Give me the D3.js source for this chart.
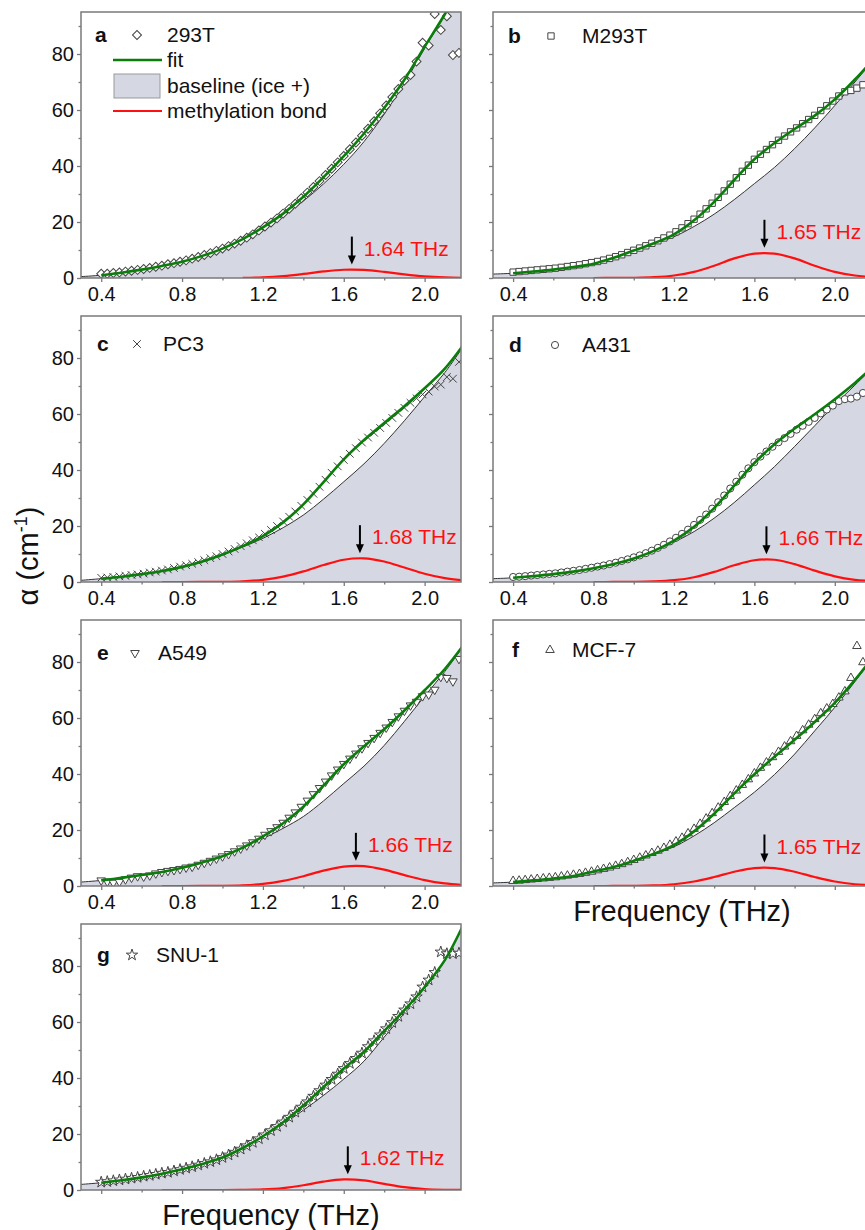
<!DOCTYPE html>
<html>
<head>
<meta charset="utf-8">
<script src="https://cdn.jsdelivr.net/npm/d3@7"></script>
<style>
  body { margin: 0; background: #fff; }
  svg { display: block; font-family: "Liberation Sans", Arial, sans-serif; }
</style>
</head>
<body>
<svg id="chart"></svg>
<script>
// grid of the model curves (THz)
const curveFreq = [0.3, 0.4, 0.5, 0.6, 0.7, 0.8, 0.9, 1.0, 1.1, 1.2, 1.3, 1.4, 1.5, 1.6, 1.7, 1.8, 1.9, 2.0, 2.1, 2.2];
// frequencies of the measured points (THz)
const pointFreq = [0.40, 0.43, 0.46, 0.49, 0.52, 0.55, 0.58, 0.61, 0.64, 0.67,
  0.70, 0.73, 0.76, 0.79, 0.82, 0.85, 0.88, 0.91, 0.94, 0.97,
  1.00, 1.03, 1.06, 1.09, 1.12, 1.15, 1.18, 1.21, 1.24, 1.27,
  1.30, 1.33, 1.36, 1.39, 1.42, 1.45, 1.48, 1.51, 1.54, 1.57,
  1.60, 1.63, 1.66, 1.69, 1.72, 1.75, 1.78, 1.81, 1.84, 1.87,
  1.90, 1.93, 1.96, 1.99, 2.02, 2.05, 2.08, 2.11, 2.14, 2.17];

const letters = ["a", "b", "c", "d", "e", "f", "g"];
const samples = ["293T", "M293T", "PC3", "A431", "A549", "MCF-7", "SNU-1"];
const peakFreq = [1.64, 1.65, 1.68, 1.66, 1.66, 1.65, 1.62];
const peakHeight = [3.0, 9.0, 8.5, 8.1, 7.2, 6.6, 3.8];

const xTicks = [0.4, 0.8, 1.2, 1.6, 2.0];
const xMinor = [0.6, 1.0, 1.4, 1.8];
const yTicks = [0, 20, 40, 60, 80];
const yMinor = [10, 30, 50, 70, 90];

// a  293T
const baselineA = [0.5, 1.0, 1.9, 3.0, 4.3, 5.8, 7.9, 10.5, 13.8, 17.8, 22.3, 27.5, 33.6, 40.6, 48.7, 58.5, 69.5, 82.0, 94.0, 107];
const gaussA = [null, null, null, null, null, null, null, null, 0.08, 0.27, 0.71, 1.46, 2.35, 2.94, 2.87, 2.18, 1.29, 0.59, 0.21, 0.06];
const fitA = [null, 1.0, 1.9, 3.0, 4.3, 5.8, 7.9, 10.5, 13.9, 18.1, 23.0, 29.0, 36.0, 43.5, 51.6, 60.7, 70.8, 82.6, 94.2, 107];
const pointsA = [1.5, 1.5, 1.8, 2.0, 2.3, 2.6, 2.9, 3.2, 3.6, 4.0,
  4.4, 4.9, 5.3, 5.8, 6.3, 6.9, 7.5, 8.2, 8.9, 9.7,
  10.5, 11.4, 12.3, 13.3, 14.4, 15.6, 17.0, 18.4, 19.8, 21.3,
  23.0, 24.7, 26.5, 28.5, 30.5, 32.5, 34.6, 36.8, 39.0, 41.3,
  43.6, 46.0, 48.4, 50.8, 53.3, 56.0, 58.8, 61.6, 64.6, 67.5,
  70.5, 72.5, 77.3, 84.0, 83.0, 94.3, 88.6, 93.5, 79.6, 80.4];

// b  M293T
const baselineB = [1.4, 1.7, 2.3, 3.0, 3.9, 5.1, 7.2, 9.7, 12.1, 14.7, 18.4, 22.8, 28.0, 33.7, 39.5, 46.2, 53.6, 61.6, 70.0, 78.5];
const gaussB = [null, null, null, null, null, 0.0, 0.02, 0.08, 0.3, 0.9, 2.2, 4.4, 7.0, 8.7, 8.7, 7.0, 4.4, 2.2, 0.9, 0.3];
const fitB = [null, 1.7, 2.3, 3.0, 3.9, 5.1, 7.2, 9.8, 12.4, 15.6, 20.6, 27.2, 35.0, 42.4, 48.2, 53.2, 58.0, 63.8, 70.9, 78.8];
const pointsB = [2.1, 2.3, 2.5, 2.7, 2.9, 3.1, 3.3, 3.5, 3.8, 4.1,
  4.4, 4.7, 5.1, 5.5, 5.9, 6.4, 7.0, 7.6, 8.3, 9.1,
  9.9, 10.7, 11.5, 12.4, 13.3, 14.3, 15.3, 16.5, 17.9, 19.4,
  21.0, 22.8, 24.7, 26.7, 28.8, 31.1, 33.5, 35.8, 38.1, 40.3,
  42.4, 44.2, 45.9, 47.6, 49.2, 50.7, 52.2, 53.6, 55.1, 56.6,
  58.1, 59.8, 61.5, 63.2, 65.0, 66.5, 67.0, 67.8, 69.0, 70.5];

// c  PC3
const baselineC = [0.6, 1.2, 1.9, 2.8, 3.9, 5.4, 7.3, 9.7, 12.5, 15.6, 19.4, 23.9, 29.6, 35.8, 42.2, 49.5, 57.6, 66.2, 74.8, 85.0];
const gaussC = [null, null, null, null, 0.0, 0.0, 0.02, 0.07, 0.26, 0.79, 1.91, 3.78, 6.08, 7.96, 8.46, 7.33, 5.16, 2.95, 1.37, 0.52];
const fitC = [null, 1.2, 1.9, 2.8, 3.9, 5.4, 7.3, 9.8, 12.8, 16.4, 21.3, 27.7, 35.7, 43.8, 50.7, 56.8, 62.8, 69.2, 76.2, 85.5];
const pointsC = [1.5, 1.6, 1.8, 2.0, 2.2, 2.5, 2.7, 3.0, 3.4, 3.7,
  4.1, 4.5, 5.0, 5.5, 6.0, 6.5, 7.1, 7.8, 8.5, 9.2,
  10.0, 10.9, 11.8, 12.8, 13.8, 14.9, 16.0, 17.2, 18.6, 20.0,
  21.6, 23.3, 25.2, 27.2, 29.3, 31.5, 34.0, 36.5, 39.0, 41.3,
  43.6, 45.8, 47.8, 49.8, 51.6, 53.3, 55.0, 56.8, 58.6, 60.4,
  62.2, 64.0, 65.6, 67.0, 68.0, 69.8, 70.5, 73.2, 72.6, 78.6];

// d  A431
const baselineD = [1.2, 1.5, 2.1, 2.8, 3.7, 4.9, 6.4, 8.3, 10.9, 14.2, 18.0, 22.8, 28.4, 34.7, 41.2, 48.4, 55.8, 63.3, 70.3, 77.3];
const gaussD = [null, null, null, null, null, 0.0, 0.01, 0.04, 0.19, 0.64, 1.71, 3.6, 5.96, 7.76, 7.95, 6.4, 4.06, 2.03, 0.79, 0.24];
const fitD = [null, 1.5, 2.1, 2.8, 3.7, 4.9, 6.4, 8.4, 11.1, 14.8, 19.7, 26.4, 34.4, 42.5, 49.2, 54.8, 59.9, 65.3, 71.1, 77.5];
const pointsD = [1.8, 1.9, 2.1, 2.3, 2.5, 2.7, 2.9, 3.1, 3.4, 3.7,
  4.0, 4.3, 4.7, 5.1, 5.5, 5.9, 6.4, 6.9, 7.5, 8.1,
  8.8, 9.5, 10.3, 11.2, 12.2, 13.3, 14.5, 15.8, 17.2, 18.7,
  20.4, 22.2, 24.1, 26.2, 28.5, 30.9, 33.4, 35.8, 38.3, 40.6,
  42.8, 44.8, 46.6, 48.3, 49.9, 51.4, 52.9, 54.4, 55.8, 57.2,
  58.6, 60.2, 61.6, 63.0, 64.6, 65.3, 65.5, 66.2, 67.5, 66.2];

// e  A549
const baselineE = [1.4, 2.0, 2.9, 3.9, 5.0, 6.5, 8.4, 10.5, 13.4, 16.9, 20.6, 24.8, 30.4, 36.6, 42.8, 50.2, 58.8, 67.8, 76.6, 86.5];
const gaussE = [null, null, null, null, 0.0, 0.0, 0.02, 0.07, 0.25, 0.75, 1.81, 3.5, 5.48, 6.93, 7.08, 5.84, 3.89, 2.1, 0.91, 0.32];
const fitE = [null, 2.0, 2.9, 3.9, 5.0, 6.5, 8.4, 10.6, 13.7, 17.7, 22.4, 28.3, 35.9, 43.5, 49.9, 56.0, 62.7, 69.9, 77.5, 86.8];
const pointsE = [2.0, 1.6, 1.2, 1.5, 2.4, 3.0, 3.5, 3.4, 3.8, 4.5,
  5.0, 5.4, 5.7, 6.1, 6.6, 6.9, 7.6, 8.3, 9.0, 9.8,
  10.6, 11.4, 12.4, 13.4, 14.5, 15.6, 16.9, 18.3, 19.6, 21.0,
  22.6, 24.4, 26.3, 28.3, 30.5, 32.8, 35.0, 37.3, 39.5, 41.6,
  43.6, 45.5, 47.3, 49.2, 51.1, 52.9, 54.7, 56.6, 58.6, 60.6,
  62.6, 64.5, 65.8, 67.8, 68.4, 70.1, 74.7, 74.3, 73.1, 81.1];

// f  MCF-7
const baselineF = [1.1, 1.4, 2.0, 2.7, 3.6, 5.2, 6.8, 8.9, 11.3, 14.0, 17.9, 22.6, 28.0, 33.5, 39.8, 47.1, 55.4, 63.8, 73.0, 82.5];
const gaussF = [null, null, null, null, null, 0.0, 0.01, 0.05, 0.2, 0.63, 1.6, 3.2, 5.08, 6.41, 6.41, 5.08, 3.2, 1.6, 0.63, 0.2];
const fitF = [null, 1.4, 2.0, 2.7, 3.6, 5.2, 6.8, 9.0, 11.5, 14.6, 19.5, 25.8, 33.1, 39.9, 46.2, 52.2, 58.6, 65.4, 73.6, 82.7];
const pointsF = [1.8, 1.9, 2.1, 2.3, 2.5, 2.7, 2.9, 3.1, 3.4, 3.7,
  4.0, 4.3, 4.7, 5.1, 5.6, 6.1, 6.6, 7.2, 7.8, 8.5,
  9.3, 10.1, 10.9, 11.8, 12.6, 13.6, 14.7, 15.9, 17.2, 18.8,
  20.4, 22.2, 24.1, 26.0, 28.0, 30.0, 32.1, 34.1, 36.1, 38.1,
  40.2, 42.2, 44.1, 46.0, 47.9, 49.8, 51.7, 53.6, 55.6, 57.6,
  59.6, 61.7, 63.4, 65.0, 67.3, 69.5, 74.3, 85.7, 79.9, 81.0];

// g  SNU-1
const baselineG = [2.0, 2.6, 3.5, 4.5, 5.8, 7.4, 9.3, 11.6, 15.0, 19.0, 23.5, 28.5, 33.8, 39.6, 46.0, 54.6, 63.2, 72.2, 82.0, 96.0];
const gaussG = [null, null, null, null, 0.0, 0.0, 0.0, 0.0, 0.04, 0.2, 0.69, 1.7, 3.0, 3.77, 3.42, 2.2, 1.03, 0.34, 0.08, 0.02];
const fitG = [null, 2.6, 3.5, 4.5, 5.8, 7.4, 9.3, 11.6, 15.0, 19.2, 24.2, 30.2, 36.8, 43.4, 49.4, 56.8, 64.2, 72.5, 82.1, 96.0];
const pointsG = [2.8, 3.0, 3.3, 3.6, 3.9, 4.2, 4.5, 4.9, 5.2, 5.6,
  6.0, 6.3, 6.8, 7.3, 7.8, 8.3, 8.9, 9.5, 10.1, 10.8,
  11.6, 12.5, 13.5, 14.6, 15.8, 17.0, 18.3, 19.7, 21.2, 22.7,
  24.3, 26.0, 27.8, 29.6, 31.5, 33.5, 35.5, 37.5, 39.5, 41.4,
  43.4, 45.2, 47.0, 48.9, 51.2, 53.3, 55.4, 57.6, 59.8, 62.0,
  64.3, 66.5, 69.0, 72.5, 75.0, 77.7, 85.0, 84.4, 84.4, 84.6];

const baselines = [baselineA, baselineB, baselineC, baselineD, baselineE, baselineF, baselineG];
const gausses = [gaussA, gaussB, gaussC, gaussD, gaussE, gaussF, gaussG];
const fits = [fitA, fitB, fitC, fitD, fitE, fitF, fitG];
const points = [pointsA, pointsB, pointsC, pointsD, pointsE, pointsF, pointsG];

// layout
const W = 865, H = 1230;
const rowTop = [12, 316, 620, 924];
const plotH = 266;
const colLeft = [81, 493];
const colW = [380, 378];
const letterDx = [14, 15, 16, 16, 16, 19, 16];
const markerDx = [56, 58, 56, 62, 54, 57, 51];
const nameDx = [86, 89, 82, 89, 77, 79, 75];
const labelDy = [30, 31, 35, 36, 40, 37, 38];

const fillColor = "#d5d8e2";
const green = "#0b7d0b";
const red = "#ff1010";
const frameColor = "#7a7a7a";
const markerStroke = "#444";

const symbols = [
  { type: d3.symbolSquare, size: 40, rotate: 45 },
  { type: d3.symbolSquare, size: 40, rotate: 0 },
  { type: d3.symbolX, size: 40, rotate: 0 },
  { type: d3.symbolCircle, size: 40, rotate: 0 },
  { type: d3.symbolTriangle, size: 32, rotate: 180 },
  { type: d3.symbolTriangle, size: 32, rotate: 0 },
  { type: d3.symbolStar, size: 40, rotate: 0 },
];

const svg = d3.select("#chart").attr("width", W).attr("height", H);
svg.append("rect").attr("width", W).attr("height", H).attr("fill", "#fff");
const defs = svg.append("defs");

const curve = d3.curveCatmullRom.alpha(0.5);

function drawMarker(g, i, x, y) {
  const s = symbols[i];
  g.append("path")
    .attr("d", d3.symbol(s.type, s.size)())
    .attr("transform", `translate(${x},${y}) rotate(${s.rotate})`)
    .attr("fill", "#fff")
    .attr("stroke", markerStroke)
    .attr("stroke-width", 1);
}

letters.forEach((letter, i) => {
  const col = i % 2, row = Math.floor(i / 2);
  const left = colLeft[col], top = rowTop[row], w = colW[col];
  const showX = i <= 4;
  const showY = col === 0;

  const x = d3.scaleLinear().domain([0.3, 2.18]).range([0, w]);
  const y = d3.scaleLinear().domain([0, 95]).range([plotH, 0]);

  const g = svg.append("g").attr("transform", `translate(${left},${top})`);

  defs.append("clipPath").attr("id", "clip" + i)
    .append("rect").attr("width", w).attr("height", plotH);
  const plot = g.append("g").attr("clip-path", `url(#clip${i})`);

  const curveRows = curveFreq.map((f, k) => ({
    f, base: baselines[i][k], gauss: gausses[i][k], fit: fits[i][k],
  }));

  plot.append("path")
    .datum(curveRows)
    .attr("fill", fillColor)
    .attr("d", d3.area().curve(curve)
      .x((d) => x(d.f)).y0(y(0)).y1((d) => y(d.base)));

  plot.append("path")
    .datum(curveRows)
    .attr("fill", "none").attr("stroke", "#333").attr("stroke-width", 1)
    .attr("d", d3.line().curve(curve).x((d) => x(d.f)).y((d) => y(d.base)));

  plot.append("path")
    .datum(curveRows.filter((d) => d.gauss !== null))
    .attr("fill", "none").attr("stroke", red).attr("stroke-width", 2.2)
    .attr("d", d3.line().curve(curve).x((d) => x(d.f)).y((d) => y(d.gauss)));

  const pts = plot.append("g");
  pointFreq.forEach((f, k) => drawMarker(pts, i, x(f), y(points[i][k])));

  plot.append("path")
    .datum(curveRows.filter((d) => d.fit !== null))
    .attr("fill", "none").attr("stroke", green).attr("stroke-width", 2.6)
    .attr("d", d3.line().curve(curve).x((d) => x(d.f)).y((d) => y(d.fit)));

  // peak annotation
  const ax = x(peakFreq[i]);
  const py = y(peakHeight[i]);
  g.append("line")
    .attr("x1", ax).attr("x2", ax)
    .attr("y1", py - 33).attr("y2", py - 12)
    .attr("stroke", "#000").attr("stroke-width", 2);
  g.append("path")
    .attr("d", `M${ax - 4},${py - 14} L${ax + 4},${py - 14} L${ax},${py - 5} Z`)
    .attr("fill", "#000");
  g.append("text")
    .attr("x", ax + 12).attr("y", py - 14)
    .attr("fill", red).attr("font-size", 21)
    .text(`${peakFreq[i].toFixed(2)} THz`);

  // axes
  const xAxis = g.append("g").attr("transform", `translate(0,${plotH})`)
    .call(d3.axisBottom(x).tickValues(xTicks).tickSize(4).tickPadding(5).tickSizeOuter(0)
      .tickFormat(showX ? d3.format(".1f") : ""));
  const xAxisMinor = g.append("g").attr("transform", `translate(0,${plotH})`)
    .call(d3.axisBottom(x).tickValues(xMinor).tickSize(2.5).tickSizeOuter(0).tickFormat(""));
  const yAxis = g.append("g")
    .call(d3.axisLeft(y).tickValues(yTicks).tickSize(4).tickPadding(3).tickSizeOuter(0)
      .tickFormat(showY ? d3.format("d") : ""));
  const yAxisMinor = g.append("g")
    .call(d3.axisLeft(y).tickValues(yMinor).tickSize(2.5).tickSizeOuter(0).tickFormat(""));

  [xAxis, xAxisMinor, yAxis, yAxisMinor].forEach((a) => {
    a.select(".domain").remove();
    a.selectAll(".tick line").attr("stroke", frameColor).attr("stroke-width", 1.3);
    a.selectAll(".tick text").attr("fill", "#111").attr("font-size", 20)
      .attr("font-family", "Liberation Sans, Arial, sans-serif");
  });

  g.append("rect")
    .attr("width", w).attr("height", plotH)
    .attr("fill", "none").attr("stroke", frameColor).attr("stroke-width", 1.5);

  // panel label
  const ly = labelDy[i];
  g.append("text").attr("x", letterDx[i]).attr("y", ly)
    .attr("font-size", 21).attr("font-weight", "bold").attr("fill", "#111")
    .text(letter);
  drawMarker(g, i, markerDx[i], ly - 7);
  g.append("text").attr("x", nameDx[i]).attr("y", ly)
    .attr("font-size", 21).attr("fill", "#111")
    .text(samples[i]);

  // legend in the first panel
  if (i === 0) {
    const lg = g.append("g");
    lg.append("line").attr("x1", 32).attr("x2", 81).attr("y1", 48).attr("y2", 48)
      .attr("stroke", green).attr("stroke-width", 2.6);
    lg.append("text").attr("x", 86).attr("y", 55).attr("font-size", 21).attr("fill", "#111").text("fit");
    lg.append("rect").attr("x", 33).attr("y", 62).attr("width", 46).attr("height", 24)
      .attr("fill", fillColor).attr("stroke", "#999").attr("stroke-width", 1);
    lg.append("text").attr("x", 86).attr("y", 81).attr("font-size", 21).attr("fill", "#111").text("baseline (ice +)");
    lg.append("line").attr("x1", 32).attr("x2", 81).attr("y1", 99).attr("y2", 99)
      .attr("stroke", red).attr("stroke-width", 2.2);
    lg.append("text").attr("x", 86).attr("y", 106).attr("font-size", 21).attr("fill", "#111").text("methylation bond");
  }

  if (i === 5 || i === 6) {
    g.append("text")
      .attr("x", w / 2).attr("y", plotH + 35)
      .attr("text-anchor", "middle").attr("font-size", 29).attr("fill", "#111")
      .text("Frequency (THz)");
  }
});

// y axis title
const yTitle = svg.append("text")
  .attr("transform", "translate(38,556) rotate(-90)")
  .attr("text-anchor", "middle").attr("font-size", 29).attr("fill", "#111");
yTitle.append("tspan").text("\u03b1 (cm");
yTitle.append("tspan").attr("font-size", 18).attr("dy", -11).text("-1");
yTitle.append("tspan").attr("dy", 11).text(")");
</script>
</body>
</html>
